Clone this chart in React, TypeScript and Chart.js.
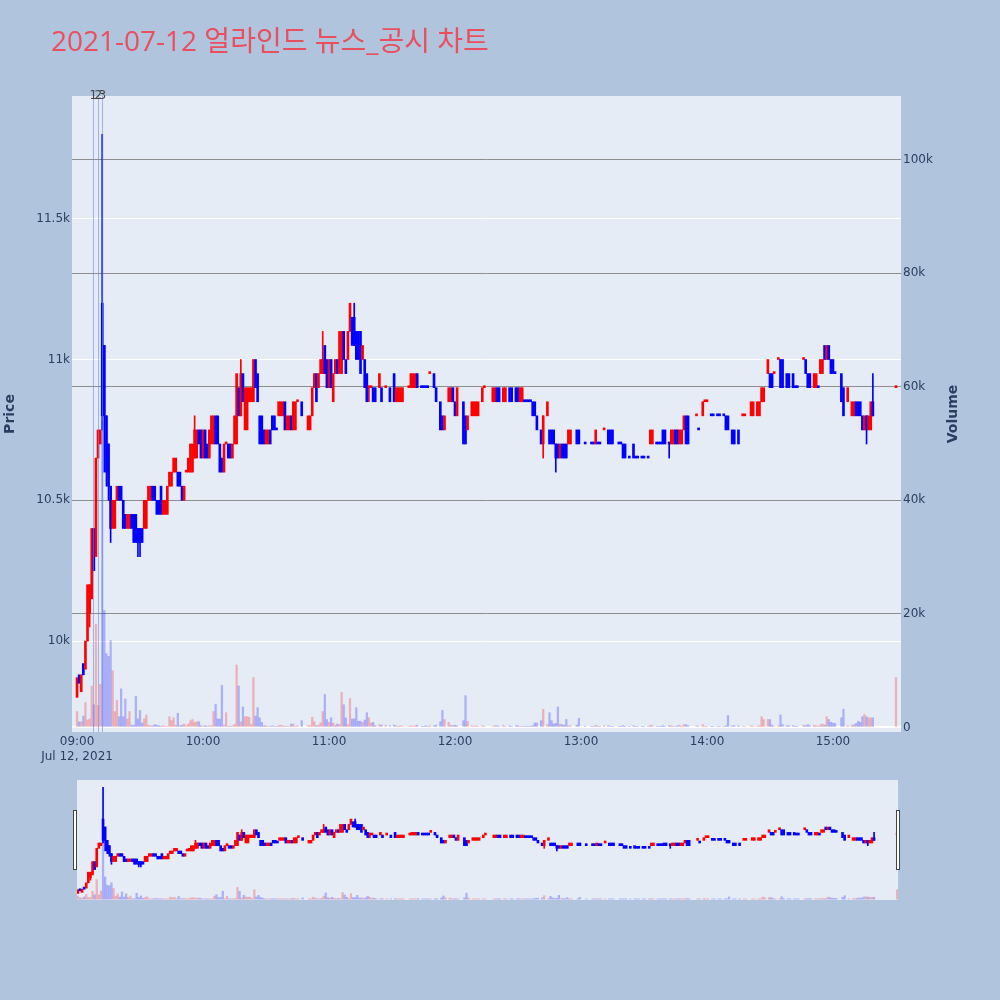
import { useEffect, useRef } from 'react';
import { Chart, registerables } from 'chart.js';
import type { Plugin } from 'chart.js';

Chart.register(...registerables);
Chart.defaults.font.family = '"DejaVu Sans", "Noto Sans CJK KR", sans-serif';

const TITLE = '2021-07-12 얼라인드 뉴스_공시 차트';
const _ = null;

// one entry per minute from 09:00 (index 0) to 15:30 (index 390); null = no trade
const opens: (number | null)[] = [
  9800, 9880, 9820, 9920, 9900, 10000, 10100, 10150, 10400, 10300, // 09:00
  10650, 10700, 11200, 11050, 10800, 10700, 10550, 10400, 10400, 10500, // 09:10
  10550, 10550, 10500, 10450, 10400, 10400, 10450, 10450, 10450, 10400, // 09:20
  10400, 10400, 10400, 10400, 10500, 10500, 10550, 10550, 10500, 10500, // 09:30
  10550, 10450, 10450, 10450, 10550, 10550, 10600, 10600, 10600, 10600, // 09:40
  10550, 10500, 10600, 10600, 10600, 10600, 10650, 10650, 10750, 10750, // 09:50
  10650, 10750, 10700, 10650, 10700, 10700, 10800, 10800, 10700, 10650, // 10:00
  10600, 10700, 10700, 10700, 10650, 10700, 10700, 10900, 10800, 10950, // 10:10
  10750, 10750, 10850, 10850, 10850, 11000, 10950, 10800, 10800, 10750, // 10:20
  10700, 10700, 10750, 10800, 10800, 10750, 10800, 10800, 10800, 10850, // 10:30
  10750, 10750, 10800, 10750, 10750, 10850, _, 10850, _, _, // 10:40
  10750, 10750, 10800, 10900, 10950, 10900, 10950, 10950, 11050, 11000, // 10:50
  10900, 11000, 10850, 10950, 11000, 10950, 10950, 11100, 11000, 11000, // 11:00
  11100, 11150, 11150, 11100, 11100, 11100, 11000, 11000, 10950, 10900, // 11:10
  10900, 10900, 10900, _, 10900, 10900, _, 10900, _, 10900, // 11:20
  _, 10950, 10850, 10850, 10850, 10850, _, _, 10900, 10900, // 11:30
  10900, 10900, 10950, _, 10900, 10900, 10900, 10900, 10950, _, // 11:40
  10950, 10900, _, 10850, 10800, 10750, _, 10850, 10850, 10900, // 11:50
  10850, 10800, _, _, 10850, 10800, 10750, _, 10800, 10800, // 12:00
  10800, 10800, _, 10850, 10900, _, _, _, 10850, 10850, // 12:10
  10900, 10900, _, 10850, 10850, _, 10900, 10900, _, 10900, // 12:20
  10900, 10850, 10850, 10850, 10850, 10850, 10850, 10850, 10850, 10800, // 12:30
  _, 10750, 10700, _, 10800, 10750, 10750, 10750, 10700, 10700, // 12:40
  10650, 10700, 10700, 10700, 10700, 10700, _, _, 10750, 10750, // 12:50
  _, _, 10700, _, _, 10700, 10700, 10700, 10700, 10700, // 13:00
  _, 10750, _, 10750, 10750, 10750, _, _, 10700, 10700, // 13:10
  10700, 10700, _, 10650, _, 10700, 10650, 10650, _, 10650, // 13:20
  10650, _, 10650, 10700, 10700, _, 10700, 10700, 10700, 10750, // 13:30
  10750, _, 10700, 10700, 10700, 10750, 10750, 10700, 10700, 10750, // 13:40
  10800, 10800, _, _, _, 10800, 10750, _, 10800, 10850, // 13:50
  10850, _, 10800, 10800, _, 10800, 10800, _, 10800, 10800, // 14:00
  10800, _, 10750, 10750, _, 10750, _, 10800, 10800, _, // 14:10
  _, 10800, 10800, _, 10800, 10800, 10850, 10850, _, 10950, // 14:20
  10950, 10950, 10950, _, 11000, 11000, 11000, _, 10950, 10950, // 14:30
  _, 10950, 10900, 10900, _, _, 11000, 11000, 10950, 10950, // 14:40
  _, 10900, 10900, 10900, 10950, 10950, 11050, 11000, 11050, 11000, // 14:50
  11000, 10950, _, _, 10950, 10900, _, 10850, _, 10800, // 15:00
  10800, 10850, 10850, 10850, 10800, 10750, 10800, 10750, 10750, 10850, // 15:10
  _, _, _, _, _, _, _, _, _, _, // 15:20
  10900, // 15:30 closing auction
];

const closes: (number | null)[] = [
  9870, 9850, 9880, 9880, 10000, 10200, 10200, 10400, 10250, 10650,
  10750, 10750, 10800, 10800, 10600, 10550, 10400, 10500, 10500, 10550,
  10500, 10500, 10400, 10400, 10450, 10450, 10400, 10350, 10350, 10350,
  10350, 10350, 10500, 10500, 10550, 10550, 10500, 10500, 10450, 10450,
  10450, 10500, 10500, 10550, 10600, 10600, 10650, 10650, 10550, 10550,
  10500, 10550, 10600, 10650, 10700, 10700, 10750, 10750, 10700, 10650,
  10750, 10650, 10650, 10750, 10800, 10800, 10700, 10700, 10600, 10600,
  10700, 10700, 10650, 10650, 10700, 10800, 10950, 10800, 10950, 10850,
  10900, 10900, 10900, 10900, 11000, 10900, 10850, 10700, 10700, 10700,
  10750, 10750, 10700, 10750, 10750, 10750, 10850, 10850, 10850, 10750,
  10800, 10800, 10750, 10850, 10850, 10850, _, 10800, _, _,
  10800, 10800, 10900, 10950, 10850, 10950, 11000, 11000, 10950, 10900,
  11000, 10900, 10950, 11000, 10950, 11100, 11100, 11000, 10950, 11100,
  11200, 11050, 11050, 11000, 11000, 10950, 11050, 10900, 10850, 10900,
  10900, 10850, 10850, _, 10950, 10850, _, 10900, _, 10850,
  _, 10850, 10900, 10900, 10900, 10900, _, _, 10900, 10950,
  10950, 10950, 10900, _, 10900, 10900, 10900, 10900, 10950, _,
  10900, 10850, _, 10750, 10750, 10800, _, 10900, 10900, 10850,
  10800, 10900, _, _, 10700, 10700, 10800, _, 10850, 10850,
  10850, 10850, _, 10900, 10900, _, _, _, 10900, 10900,
  10850, 10850, _, 10900, 10900, _, 10850, 10850, _, 10850,
  10850, 10900, 10900, 10850, 10850, 10850, 10850, 10800, 10800, 10750,
  _, 10700, 10800, _, 10850, 10700, 10700, 10700, 10650, 10650,
  10700, 10650, 10650, 10650, 10750, 10750, _, _, 10700, 10700,
  _, _, 10700, _, _, 10700, 10700, 10750, 10700, 10700,
  _, 10750, _, 10700, 10700, 10700, _, _, 10700, 10700,
  10650, 10650, _, 10650, _, 10650, 10650, 10650, _, 10650,
  10650, _, 10650, 10750, 10750, _, 10700, 10700, 10700, 10700,
  10700, _, 10700, 10750, 10750, 10700, 10700, 10750, 10750, 10800,
  10700, 10700, _, _, _, 10800, 10750, _, 10850, 10850,
  10850, _, 10800, 10800, _, 10800, 10800, _, 10800, 10750,
  10750, _, 10700, 10700, _, 10700, _, 10800, 10800, _,
  _, 10850, 10850, _, 10850, 10850, 10900, 10900, _, 11000,
  10900, 10900, 10950, _, 11000, 10900, 10900, _, 10900, 10900,
  _, 10900, 10900, 10900, _, _, 11000, 10950, 10900, 10900,
  _, 10950, 10950, 10900, 11000, 11000, 11000, 11050, 11000, 10950,
  10950, 10950, _, _, 10850, 10800, _, 10900, _, 10850,
  10850, 10800, 10800, 10800, 10750, 10800, 10750, 10800, 10850, 10800,
  _, _, _, _, _, _, _, _, _, _,
  10900,
];

const volumes: number[] = [
  2800, 1000, 1000, 2000, 4400, 1300, 1500, 7300, 4000, 18200,
  3900, 7600, 54000, 20600, 13000, 12500, 15300, 10000, 2800, 4800,
  1900, 6800, 1900, 5000, 1500, 2800, 400, 400, 5500, 1500,
  3000, 800, 1500, 2200, 400, 300, 300, 500, 400, 300,
  200, 300, 200, 200, 1900, 1200, 1700, 400, 2500, 300,
  400, 600, 300, 600, 1200, 1400, 900, 1000, 1000, 300,
  200, 300, 200, 300, 300, 2800, 4100, 1500, 1500, 7400,
  400, 2600, 200, 200, 300, 500, 11000, 7300, 1000, 3600,
  1900, 1900, 1800, 500, 8800, 2000, 3500, 1700, 900, 300,
  300, 200, 200, 300, 200, 200, 300, 400, 300, 200,
  200, 200, 600, 600, 200, 300, 0, 1200, 0, 0,
  300, 300, 1800, 1000, 300, 400, 800, 2800, 5800, 1400,
  900, 1700, 800, 400, 600, 500, 6200, 4000, 1700, 500,
  5100, 1500, 1500, 3500, 1100, 1100, 900, 1300, 2600, 1700,
  800, 900, 300, 0, 500, 400, 0, 400, 0, 300,
  0, 400, 300, 200, 300, 200, 0, 0, 200, 300,
  200, 300, 400, 0, 200, 200, 300, 200, 300, 0,
  300, 400, 0, 1000, 3000, 1400, 0, 900, 400, 300,
  400, 300, 0, 0, 1200, 5600, 1100, 0, 300, 200,
  300, 200, 0, 300, 200, 0, 0, 0, 200, 300,
  300, 200, 0, 400, 200, 0, 300, 200, 0, 300,
  300, 200, 200, 200, 200, 200, 200, 300, 800, 800,
  0, 1200, 3200, 0, 500, 2600, 1200, 600, 700, 3600,
  600, 500, 400, 1400, 300, 300, 0, 0, 400, 1600,
  0, 0, 200, 0, 0, 200, 200, 400, 200, 200,
  0, 300, 0, 300, 200, 200, 0, 0, 200, 200,
  300, 200, 0, 200, 0, 300, 200, 200, 0, 200,
  200, 0, 200, 400, 300, 0, 200, 200, 200, 300,
  200, 0, 300, 300, 200, 200, 300, 400, 200, 500,
  500, 300, 0, 0, 0, 300, 200, 0, 500, 200,
  200, 0, 200, 200, 0, 200, 200, 0, 200, 300,
  2100, 0, 300, 300, 0, 300, 0, 200, 200, 0,
  0, 300, 200, 0, 200, 300, 1900, 1400, 0, 1400,
  1400, 400, 200, 0, 300, 2200, 500, 0, 300, 300,
  0, 300, 200, 200, 0, 0, 400, 300, 500, 300,
  0, 400, 300, 200, 500, 600, 400, 1900, 1400, 900,
  800, 700, 0, 0, 1700, 3200, 0, 300, 0, 400,
  500, 700, 1100, 900, 1900, 2300, 1900, 1700, 1700, 1700,
  0, 0, 0, 0, 0, 0, 0, 0, 0, 0,
  8800,
];

// wicks that reach beyond the candle body (minute -> price)
const wickHighs: Record<number, number> = { 12: 11800, 56: 10800, 78: 11000, 117: 11100, 132: 11200, 379: 10950 };
const wickLows: Record<number, number> = {
  6: 10050, 12: 10750, 13: 10600, 14: 10550, 15: 10500, 16: 10350, 29: 10300, 30: 10300,
  139: 10850, 222: 10650, 228: 10600, 282: 10650, 376: 10700,
};

// news / disclosure markers (minutes after 09:00)
const newsMinutes = [7.8, 10.1, 12.0];
const newsLabels = ['1', '2', '3'];

const hourTicks = [0, 60, 120, 180, 240, 300, 360];
const hourLabels = ['09:00', '10:00', '11:00', '12:00', '13:00', '14:00', '15:00'];
const priceTicks = [10000, 10500, 11000, 11500];
const volumeTicks = [0, 20000, 40000, 60000, 80000, 100000];

const PRICE_RANGE = [9677, 11936];
const VOLUME_RANGE = [-800, 111170];

const UP = '#ff0000';
const DOWN = '#0000ff';
const UP_VOL = 'rgba(255, 0, 0, 0.25)';
const DOWN_VOL = 'rgba(0, 0, 255, 0.25)';
const AXIS_TEXT = '#2a3f5f';
const PLOT_BG = '#E5ECF6';

function buildDatasets() {
  const bodies: { x: number; y: [number, number] }[] = [];
  const bodyColors: string[] = [];
  const wicks: { x: number; y: [number, number] }[] = [];
  const wickColors: string[] = [];
  const vols: { x: number; y: number }[] = [];
  const volColors: string[] = [];
  let prevClose: number | null = null;
  let prevUp = true;

  opens.forEach((o, m) => {
    const c = closes[m];
    if (o == null || c == null) return;
    let up: boolean;
    if (c !== o) up = c > o;
    else if (prevClose != null && c !== prevClose) up = c > prevClose;
    else up = prevUp;
    prevClose = c;
    prevUp = up;

    bodies.push({ x: m, y: [o, c] });
    bodyColors.push(up ? UP : DOWN);
    if (wickHighs[m] != null || wickLows[m] != null) {
      wicks.push({ x: m, y: [wickLows[m] ?? Math.min(o, c), wickHighs[m] ?? Math.max(o, c)] });
      wickColors.push(up ? UP : DOWN);
    }
    if (volumes[m]) {
      vols.push({ x: m, y: volumes[m] });
      volColors.push(up ? UP_VOL : DOWN_VOL);
    }
  });

  return [
    {
      label: 'Volume',
      data: vols,
      yAxisID: 'y2',
      backgroundColor: volColors,
      barThickness: 1.6,
      grouped: false,
      order: 0,
    },
    {
      label: 'Body',
      data: bodies,
      yAxisID: 'y',
      backgroundColor: bodyColors,
      barThickness: 2,
      minBarLength: 2,
      grouped: false,
      order: 1,
    },
    {
      label: 'Wick',
      data: wicks,
      yAxisID: 'y',
      backgroundColor: wickColors,
      barThickness: 1,
      grouped: false,
      order: 2,
    },
  ];
}

const plotBg: Plugin<'bar'> = {
  id: 'plotBg',
  beforeDraw(chart) {
    const { ctx, chartArea } = chart;
    ctx.save();
    ctx.fillStyle = PLOT_BG;
    ctx.fillRect(chartArea.left, chartArea.top, chartArea.right - chartArea.left, chartArea.bottom - chartArea.top);
    ctx.restore();
  },
};

const newsLines: Plugin<'bar'> = {
  id: 'newsLines',
  afterDatasetsDraw(chart) {
    const { ctx, chartArea, scales } = chart;
    ctx.save();
    ctx.strokeStyle = 'rgba(110, 140, 230, 0.6)';
    ctx.lineWidth = 1;
    newsMinutes.forEach((m) => {
      const x = Math.round(scales.x.getPixelForValue(m)) + 0.5;
      ctx.beginPath();
      ctx.moveTo(x, chartArea.top);
      ctx.lineTo(x, chartArea.bottom);
      ctx.stroke();
    });
    ctx.fillStyle = '#444';
    ctx.font = '12px "DejaVu Sans", sans-serif';
    ctx.textAlign = 'center';
    ctx.textBaseline = 'middle';
    newsMinutes.forEach((m, i) => {
      ctx.fillText(newsLabels[i], scales.x.getPixelForValue(m), chartArea.top);
    });
    ctx.restore();
  },
};

// the right-axis title reads bottom to top, like the left one
const volumeTitle: Plugin<'bar'> = {
  id: 'volumeTitle',
  afterDraw(chart) {
    const { ctx, chartArea } = chart;
    ctx.save();
    ctx.translate(953, (chartArea.top + chartArea.bottom) / 2);
    ctx.rotate(-Math.PI / 2);
    ctx.fillStyle = AXIS_TEXT;
    ctx.font = 'bold 14px "DejaVu Sans", sans-serif';
    ctx.textAlign = 'center';
    ctx.textBaseline = 'middle';
    ctx.fillText('Volume', 0, 0);
    ctx.restore();
  },
};

export default function App() {
  const mainRef = useRef<HTMLCanvasElement>(null);
  const sliderRef = useRef<HTMLCanvasElement>(null);

  useEffect(() => {
    if (!mainRef.current || !sliderRef.current) return;

    const tickFont = { size: 12 };

    const main = new Chart(mainRef.current, {
      type: 'bar',
      data: { datasets: buildDatasets() as never },
      options: {
        animation: false,
        responsive: false,
        events: [],
        layout: { padding: { top: 96, left: 0, right: 0, bottom: 0 } },
        plugins: { legend: { display: false }, tooltip: { enabled: false } },
        scales: {
          x: {
            type: 'linear',
            min: -2.4,
            max: 392.4,
            offset: false,
            grid: { display: false, drawTicks: false },
            border: { display: false },
            afterBuildTicks: (s) => {
              s.ticks = hourTicks.map((value) => ({ value }));
            },
            afterFit: (s) => {
              s.height = 38;
            },
            ticks: {
              color: AXIS_TEXT,
              font: tickFont,
              padding: 3,
              maxRotation: 0,
              autoSkip: false,
              callback: (_v, i) => (i === 0 ? [hourLabels[0], 'Jul 12, 2021'] : hourLabels[i]),
            },
          },
          y: {
            type: 'linear',
            position: 'left',
            min: PRICE_RANGE[0],
            max: PRICE_RANGE[1],
            beginAtZero: false,
            grid: { color: '#ffffff', lineWidth: 1, drawTicks: false },
            border: { display: false },
            afterBuildTicks: (s) => {
              s.ticks = priceTicks.map((value) => ({ value }));
            },
            afterFit: (s) => {
              s.width = 72;
            },
            ticks: {
              color: AXIS_TEXT,
              font: tickFont,
              padding: 2,
              callback: (v) => `${Number(v) / 1000}k`,
            },
            title: {
              display: true,
              text: 'Price',
              color: AXIS_TEXT,
              font: { size: 14, weight: 'bold' },
              padding: { top: 2, bottom: 0 },
            },
          },
          y2: {
            type: 'linear',
            position: 'right',
            min: VOLUME_RANGE[0],
            max: VOLUME_RANGE[1],
            beginAtZero: false,
            grid: {
              color: (ctx) => (ctx.tick && ctx.tick.value === 0 ? '#ffffff' : '#8e8e8e'),
              lineWidth: (ctx) => (ctx.tick && ctx.tick.value === 0 ? 2 : 1),
              drawTicks: false,
            },
            border: { display: false },
            afterBuildTicks: (s) => {
              s.ticks = volumeTicks.map((value) => ({ value }));
            },
            afterFit: (s) => {
              s.width = 99;
            },
            ticks: {
              color: AXIS_TEXT,
              font: tickFont,
              padding: 2,
              callback: (v) => (Number(v) === 0 ? '0' : `${Number(v) / 1000}k`),
            },
          },
        },
      },
      plugins: [plotBg, newsLines, volumeTitle],
    });

    const slider = new Chart(sliderRef.current, {
      type: 'bar',
      data: { datasets: buildDatasets() as never },
      options: {
        animation: false,
        responsive: false,
        events: [],
        layout: { padding: 0 },
        plugins: { legend: { display: false }, tooltip: { enabled: false } },
        scales: {
          x: { type: 'linear', display: false, min: -0.4, max: 390.4, offset: false },
          y: { type: 'linear', display: false, min: PRICE_RANGE[0], max: PRICE_RANGE[1], beginAtZero: false },
          y2: { type: 'linear', display: false, min: VOLUME_RANGE[0], max: VOLUME_RANGE[1], beginAtZero: false },
        },
      },
      plugins: [plotBg],
    });

    return () => {
      main.destroy();
      slider.destroy();
    };
  }, []);

  const handle: React.CSSProperties = {
    position: 'absolute',
    top: 810,
    width: 4,
    height: 60,
    background: '#ffffff',
    border: '1px solid #444',
    boxSizing: 'border-box',
  };

  return (
    <div style={{ position: 'absolute', left: 0, top: 0, width: 1000, height: 1000, background: '#B0C4DE', overflow: 'hidden' }}>
      <canvas ref={mainRef} width={1000} height={770} style={{ position: 'absolute', left: 0, top: 0 }} />
      <div
        style={{
          position: 'absolute',
          left: 51,
          top: 26,
          fontFamily: '"Open Sans", "Noto Sans CJK KR", sans-serif',
          fontSize: 28,
          lineHeight: '28px',
          color: '#EA4F5E',
          whiteSpace: 'nowrap',
        }}
      >
        {TITLE}
      </div>
      <div style={{ position: 'absolute', left: 77, top: 780, width: 821, height: 120, background: PLOT_BG }}>
        <canvas ref={sliderRef} width={821} height={120} />
      </div>
      <div style={{ ...handle, left: 73 }} />
      <div style={{ ...handle, left: 896 }} />
    </div>
  );
}
